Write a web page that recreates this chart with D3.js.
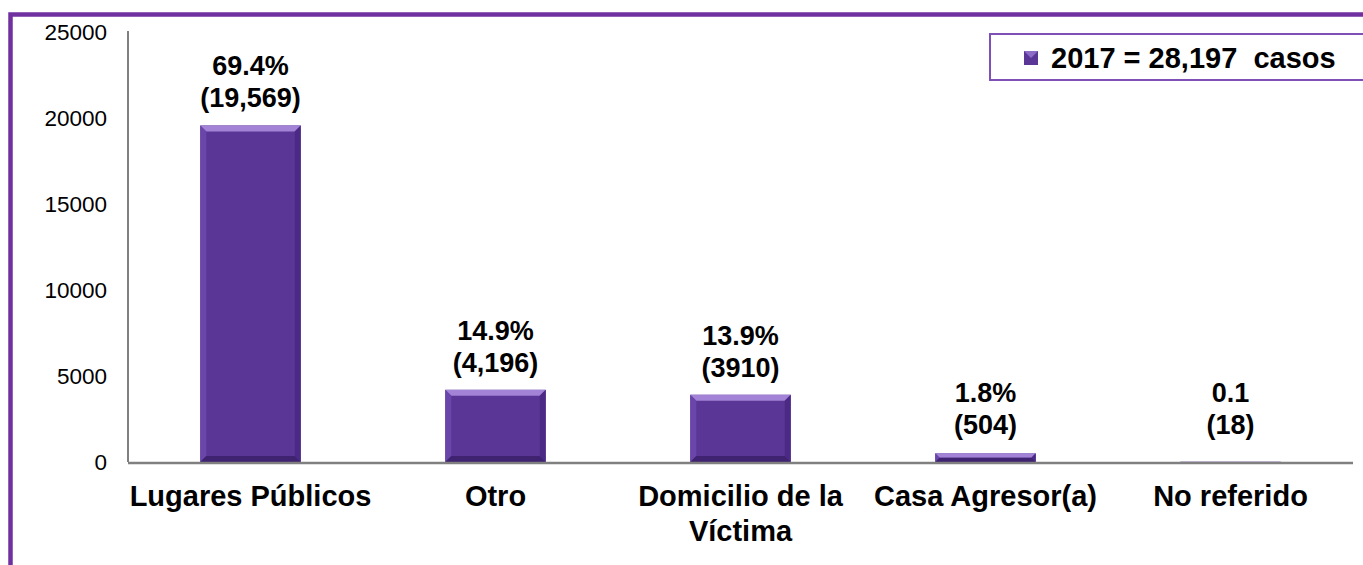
<!DOCTYPE html>
<html>
  <head>
    <meta charset="utf-8">
    <script src="https://cdn.jsdelivr.net/npm/d3@7"></script>
    <style>
      body {margin:0; background:#fff;}
      svg {display:block; font-family:"Liberation Sans", Arial, sans-serif;}
    </style>
  </head>
  <body>
  <script>
    // data
    var categories = ["Lugares Públicos", "Otro", "Domicilio de la|Víctima", "Casa Agresor(a)", "No referido"];
    var casos = [19569, 4196, 3910, 504, 18];
    var pctLabels = ["69.4%", "14.9%", "13.9%", "1.8%", "0.1"];
    var countLabels = ["(19,569)", "(4,196)", "(3910)", "(504)", "(18)"];
    var yTicks = [0, 5000, 10000, 15000, 20000, 25000];
    var legendText = "2017 = 28,197  casos";

    var width = 1363, height = 565;
    // note: "top" is taken by window.top, so use other names
    var plotLeft = 128, plotRight = 1353, plotTop = 32, plotBottom = 462;

    var svg = d3.select("body").append("svg")
        .attr("width", width)
        .attr("height", height);

    // purple frame (only top and left are inside the picture)
    svg.append("path")
        .attr("d", "M10.5,565 V14.5 H1370")
        .attr("fill", "none")
        .attr("stroke", "#7030a0")
        .attr("stroke-width", 4.5);

    var x = d3.scaleBand()
        .domain(categories)
        .range([plotLeft, plotRight])
        .paddingInner(0.59)
        .paddingOuter(0.295);

    var y = d3.scaleLinear()
        .domain([0, 25000])
        .range([plotBottom, plotTop]);

    // y axis labels
    svg.selectAll(".ytick")
        .data(yTicks)
        .enter()
        .append("text")
        .attr("class", "ytick")
        .attr("x", 107)
        .attr("y", function(d) { return y(d) + 8; })
        .attr("text-anchor", "end")
        .attr("font-size", 22.5)
        .attr("fill", "#000")
        .text(function(d) { return d; });

    // bars with a bevel look
    var bev = 6;
    var g = svg.selectAll(".bar")
        .data(casos)
        .enter()
        .append("g")
        .attr("class", "bar");

    g.each(function(d, i) {
      var x0 = x(categories[i]), w = x.bandwidth();
      var y0 = y(d), h = plotBottom - y0;
      var b = Math.min(bev, h / 2, w / 2);
      var sel = d3.select(this);
      sel.append("rect")
          .attr("x", x0).attr("y", y0)
          .attr("width", w).attr("height", h)
          .attr("fill", "#5a3696");
      if (h < 1) return;
      // top edge
      sel.append("polygon")
          .attr("points", [[x0, y0], [x0 + w, y0], [x0 + w - b, y0 + b], [x0 + b, y0 + b]].join(" "))
          .attr("fill", "#a283d6");
      // left edge
      sel.append("polygon")
          .attr("points", [[x0, y0], [x0 + b, y0 + b], [x0 + b, y0 + h - b], [x0, y0 + h]].join(" "))
          .attr("fill", "#6a46aa");
      // right edge
      sel.append("polygon")
          .attr("points", [[x0 + w, y0], [x0 + w - b, y0 + b], [x0 + w - b, y0 + h - b], [x0 + w, y0 + h]].join(" "))
          .attr("fill", "#4b2a85");
      // bottom edge
      sel.append("polygon")
          .attr("points", [[x0, y0 + h], [x0 + b, y0 + h - b], [x0 + w - b, y0 + h - b], [x0 + w, y0 + h]].join(" "))
          .attr("fill", "#3f2270");
    });

    // axis lines
    svg.append("line")
        .attr("x1", plotLeft).attr("x2", plotLeft)
        .attr("y1", plotTop - 1).attr("y2", plotBottom)
        .attr("stroke", "#808080").attr("stroke-width", 2);
    svg.append("line")
        .attr("x1", plotLeft).attr("x2", plotRight)
        .attr("y1", plotBottom + 1).attr("y2", plotBottom + 1)
        .attr("stroke", "#808080").attr("stroke-width", 2.5);

    // value labels, two lines above each bar
    function labelTop(i) { return Math.min(y(casos[i]), 452); }

    svg.selectAll(".pct")
        .data(pctLabels)
        .enter()
        .append("text")
        .attr("class", "pct")
        .attr("x", function(d, i) { return x(categories[i]) + x.bandwidth() / 2; })
        .attr("y", function(d, i) { return labelTop(i) - 50; })
        .attr("text-anchor", "middle")
        .attr("font-size", 27)
        .attr("font-weight", "bold")
        .text(function(d) { return d; });

    svg.selectAll(".cnt")
        .data(countLabels)
        .enter()
        .append("text")
        .attr("class", "cnt")
        .attr("x", function(d, i) { return x(categories[i]) + x.bandwidth() / 2; })
        .attr("y", function(d, i) { return labelTop(i) - 18; })
        .attr("text-anchor", "middle")
        .attr("font-size", 27)
        .attr("font-weight", "bold")
        .text(function(d) { return d; });

    // category labels
    svg.selectAll(".cat")
        .data(categories)
        .enter()
        .append("text")
        .attr("class", "cat")
        .attr("text-anchor", "middle")
        .attr("font-size", 29)
        .attr("font-weight", "bold")
        .each(function(d) {
          var parts = d.split("|");
          var t = d3.select(this);
          parts.forEach(function(p, k) {
            t.append("tspan")
                .attr("x", x(d) + x.bandwidth() / 2)
                .attr("y", 506 + k * 35)
                .text(p);
          });
        });

    // legend
    var lg = svg.append("g");
    lg.append("rect")
        .attr("x", 990).attr("y", 34)
        .attr("width", 390).attr("height", 46)
        .attr("fill", "#fff")
        .attr("stroke", "#7e50b8")
        .attr("stroke-width", 2);
    lg.append("rect")
        .attr("x", 1024).attr("y", 51)
        .attr("width", 14).attr("height", 14)
        .attr("fill", "#5a3696");
    lg.append("polygon")
        .attr("points", "1024,51 1038,51 1031,58")
        .attr("fill", "#8d6cc8");
    lg.append("text")
        .attr("x", 1051).attr("y", 68)
        .attr("font-size", 29)
        .attr("font-weight", "bold")
        .attr("xml:space", "preserve")
        .style("white-space", "pre")
        .text(legendText);
  </script>
  </body>
</html>
